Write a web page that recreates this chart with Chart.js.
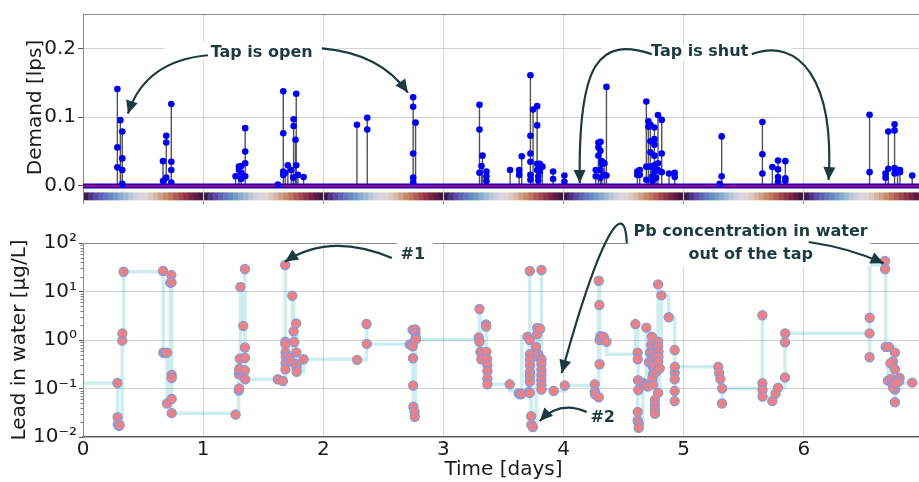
<!DOCTYPE html>
<html>
<head>
<meta charset="utf-8">
<script src="https://cdn.jsdelivr.net/npm/chart.js@4.4.1/dist/chart.umd.min.js"></script>
<style>
  html, body { margin: 0; padding: 0; background: #fff; width: 919px; height: 482px; overflow: hidden; }
  canvas { position: absolute; left: 0; }
  #demand { top: 0; }
  #lead { top: 215px; }
</style>
</head>
<body>
<canvas id="demand" width="930" height="215" style="width:930px;height:215px"></canvas>
<canvas id="lead" width="930" height="267" style="width:930px;height:267px"></canvas>
<script>
/* ── data ── */

const dayTicks = [0, 1, 2, 3, 4, 5, 6, 7];
const demandTicks = [0, 0.1, 0.2];
const leadTicks = [0.01, 0.1, 1, 10, 100];

// tap openings [days] and the flows logged during each one [lps]
const openTimes = [
  0.286, 0.311, 0.327, 0.666, 0.693, 0.735, 1.270, 1.298, 1.317, 1.350,
  1.622, 1.667, 1.683, 1.705, 1.733, 1.750, 1.753, 1.769, 1.775, 1.789, 1.836,
  2.280, 2.366, 2.748, 2.768, 3.300, 3.317, 3.325, 3.358, 3.555, 3.630, 3.652,
  3.724, 3.746, 3.780, 3.790, 3.802, 3.824, 3.913, 4.007,
  4.268, 4.290, 4.307, 4.318, 4.340, 4.357,
  4.614, 4.634, 4.689, 4.706, 4.723, 4.740, 4.756, 4.770, 4.786, 4.817, 4.878, 4.925,
  5.300, 5.316, 5.655, 5.738, 5.785, 5.846,
  6.547, 6.680, 6.703, 6.755, 6.780, 6.800, 6.902
];
const openFlows = [
  [0.141, 0.056, 0.027], [0.0956], [0.079, 0.040, 0.023, 0.003],
  [0.036, 0.007], [0.073, 0.063, 0.012], [0.119, 0.035, 0.023, 0.005],
  [0.014], [0.023, 0.028], [0.029, 0.019, 0.010], [0.084, 0.050, 0.033, 0.014],
  [0.002], [0.1375, 0.0765, 0.021, 0.016], [0.019], [0.030], [0.023], [0.012], [0.097, 0.087], [0.067], [0.134, 0.030], [0.016], [0.013],
  [0.089], [0.099, 0.082],
  [0.129, 0.115, 0.047, 0.012, 0.005], [0.092],
  [0.118, 0.082, 0.019], [0.029], [0.044], [0.021, 0.014, 0.007],
  [0.023], [0.023, 0.016], [0.043],
  [0.161, 0.073, 0.047, 0.035, 0.016, 0.009], [0.111], [0.116, 0.088, 0.032, 0.023], [0.014, 0.008], [0.032, 0.021], [0.028],
  [0.021, 0.010], [0.015, 0.006],
  [0.023, 0.014], [0.063, 0.056, 0.044], [0.064, 0.051, 0.023, 0.012], [0.036, 0.032], [0.033, 0.016], [0.144, 0.015],
  [0.021, 0.016], [0.023, 0.016], [0.1226, 0.028, 0.009], [0.094, 0.086], [0.089, 0.065, 0.049, 0.028], [0.014, 0.007],
  [0.085, 0.068, 0.060, 0.044, 0.030, 0.021], [0.012], [0.103, 0.033, 0.023], [0.096, 0.047, 0.020], [0.018], [0.019, 0.013],
  [0.003], [0.072, 0.014],
  [0.093, 0.046, 0.018], [0.0275], [0.037, 0.024, 0.013, 0.006], [0.036, 0.011, 0.007],
  [0.1035, 0.020], [0.018, 0.012], [0.079, 0.025], [0.0895, 0.0807, 0.026, 0.018], [0.023, 0.020], [0.023, 0.020], [0.015]
];

// lead at the tap while water is drawn: time [days], Pb [ug/L]
const pbT = [
  0.286, 0.288, 0.290, 0.300, 0.305, 0.327, 0.328, 0.338,
  0.666, 0.668, 0.684, 0.700, 0.700, 0.727, 0.735, 0.737, 0.738, 0.738, 0.738, 0.738,
  1.270, 1.296, 1.300, 1.298, 1.300, 1.302, 1.305, 1.310, 1.334, 1.348, 1.348, 1.348, 1.348, 1.350,
  1.622, 1.664, 1.683, 1.684, 1.685, 1.686, 1.688, 1.686, 1.685, 1.710, 1.719, 1.733, 1.742, 1.753, 1.758, 1.775, 1.776, 1.778, 1.777, 1.778, 1.836,
  2.282, 2.360, 2.362,
  2.720, 2.735, 2.743, 2.745, 2.747, 2.748, 2.750, 2.760, 2.762, 2.765, 2.768, 2.770, 2.770,
  3.294, 3.300, 3.300, 3.308, 3.312, 3.315, 3.355, 3.356, 3.358, 3.364, 3.366, 3.366, 3.366, 3.366,
  3.552, 3.627, 3.640, 3.649,
  3.700, 3.712, 3.719, 3.719, 3.720, 3.720, 3.720, 3.720, 3.719, 3.719, 3.719, 3.730, 3.732, 3.744,
  3.771, 3.780, 3.781, 3.788, 3.794, 3.805, 3.816, 3.816, 3.816, 3.816, 3.816, 3.816, 3.816, 3.816,
  3.918, 4.010,
  4.259, 4.260, 4.262, 4.293, 4.293, 4.298, 4.300, 4.300, 4.307, 4.315, 4.335, 4.357,
  4.598, 4.617, 4.617, 4.620, 4.622, 4.617, 4.617, 4.625, 4.625, 4.660, 4.675, 4.689, 4.700,
  4.710, 4.720, 4.730, 4.735, 4.740, 4.740, 4.745, 4.735, 4.745, 4.740, 4.745, 4.750, 4.755,
  4.760, 4.760, 4.760, 4.760, 4.765, 4.770, 4.780, 4.787, 4.787, 4.787, 4.790, 4.790, 4.787, 4.787,
  4.800, 4.814, 4.875, 4.925, 4.925, 4.925, 4.925, 4.925, 4.926,
  5.288, 5.294, 5.305, 5.319, 5.320,
  5.655, 5.655, 5.656, 5.656, 5.738, 5.765, 5.785, 5.843, 5.843, 5.845,
  6.547, 6.547, 6.548, 6.675, 6.676, 6.681, 6.708, 6.758, 6.742, 6.720, 6.758,
  6.700, 6.728, 6.755, 6.742, 6.758, 6.742, 6.797, 6.792, 6.758, 6.765, 6.902
];
const pbVal = [
  0.13, 0.0255, 0.018, 0.017, 0.0175, 0.97, 1.37, 25.6,
  26.5, 0.55, 0.54, 0.55, 0.049, 15.2, 21.9, 15.4, 0.19, 0.165, 0.061, 0.031,
  0.029, 0.091, 0.100, 0.196, 0.237, 0.255, 0.41, 12.4, 1.95, 29.1, 0.70, 0.43, 0.237, 0.155,
  0.155, 0.143, 35.2, 0.92, 0.81, 0.557, 0.45, 0.33, 0.25, 0.40, 0.43, 0.36, 8.2, 1.51, 0.91, 2.2, 0.557, 0.316, 0.27, 0.222, 0.40,
  0.39, 2.14, 0.83,
  0.81, 0.78, 1.62, 0.74, 0.42, 0.115, 0.042, 0.033, 0.026, 1.65, 1.40, 1.10, 1.03,
  1.13, 0.92, 4.36, 0.57, 0.57, 0.40, 2.1, 1.9, 0.57, 0.40, 0.30, 0.23, 0.16, 0.122,
  0.122, 0.079, 0.076, 0.078,
  1.17, 0.085, 26.5, 1.0, 0.51, 0.39, 0.30, 0.22, 0.175, 0.138, 0.081, 0.027, 0.018, 0.016,
  0.72, 1.78, 1.33, 0.51, 0.45, 1.70, 27.8, 0.40, 0.32, 0.24, 0.19, 0.15, 0.12, 0.095,
  0.089, 0.115,
  0.122, 0.086, 0.076, 0.066, 16.7, 5.27, 0.316, 1.0, 1.2, 1.15, 1.15, 0.92,
  2.13, 0.55, 0.40, 0.148, 0.093, 0.033, 0.022, 0.019, 0.0155, 0.13, 0.12, 1.8, 0.11,
  0.35, 0.55, 0.79, 1.17, 0.65, 0.52, 0.40, 0.31, 0.20, 0.16, 0.12, 0.26, 0.30,
  0.058, 0.046, 0.036, 0.030, 0.45, 0.22, 0.70, 14.0, 0.92, 0.72, 0.57, 0.45, 0.36, 0.081,
  0.26, 8.3, 2.94, 0.62, 0.21, 0.155, 0.089, 0.055, 0.28,
  0.28, 0.21, 0.157, 0.049, 0.100,
  3.23, 0.128, 0.093, 0.068, 0.055, 0.079, 0.104, 0.168, 0.90, 1.37,
  1.37, 0.44, 2.88, 42.5, 29.1, 0.72, 0.72, 0.55, 0.36, 0.33, 0.25,
  0.145, 0.16, 0.135, 0.12, 0.095, 0.105, 0.165, 0.14, 0.052, 0.13, 0.132
];

// stagnation values between draws (line only, no marker)
const stepKnotT = [0, 3.553, 3.653, 4.360, 6.549, 7];
const stepKnotVal = [0.13, 0.09, 1.2, 0.51, 35, 0.132];

/* ── style ── */

const FONT = '"DejaVu Sans", sans-serif';
const TXT = '#1a1a1a';
const GRID = '#d3d3d3';
const SPINE = '#8c8c8c';
const INK = '#1c3b40';

Chart.defaults.font.family = FONT;
Chart.defaults.color = TXT;

// twilight_shifted-ish cyclic map for hour of day
const TWILIGHT = ['#2f1436', '#5b3e9c', '#5f6ebd', '#6b91c4', '#93b2d0', '#c4cedb', '#e2d9e2',
                  '#d7c2b5', '#ca9677', '#b66954', '#983a4b', '#6c1c47', '#2f1436'];
function hexRgb(h) { return [1, 3, 5].map(i => parseInt(h.slice(i, i + 2), 16)); }
function twilightShifted(s) {
  const p = s * (TWILIGHT.length - 1);
  const i = Math.min(Math.floor(p), TWILIGHT.length - 2);
  const f = p - i;
  const a = hexRgb(TWILIGHT[i]), b = hexRgb(TWILIGHT[i + 1]);
  return 'rgb(' + a.map((c, k) => Math.round(c + (b[k] - c) * f)).join(',') + ')';
}

const SUP = { '-': '⁻', '0': '⁰', '1': '¹', '2': '²', '3': '³' };
function powerLabel(v) {
  return '10' + String(Math.round(Math.log10(v))).split('').map(c => SUP[c]).join('');
}

// keep both panels on the same x extent regardless of edge labels
function pinX(height) {
  return s => { s.height = height; s.paddingLeft = 0; s.paddingRight = 0; };
}

/* ── annotations (data coords) ── */

const demandNotes = [
  { lines: [['Tap is open', 1.487, 0.1937]],
    box: [[0.682, 0.2098], [2.121, 0.1846]],
    arrows: [[[1.040, 0.190], [0.516, 0.182], [0.374, 0.105]],
             [[1.988, 0.200], [2.471, 0.193], [2.704, 0.1357]]] },
  { lines: [['Tap is shut', 5.133, 0.1944]],
    box: [[4.318, 0.2056], [5.898, 0.1818]],
    arrows: [[[4.734, 0.1916], [4.301, 0.2168], [4.118, 0.1818], [4.135, 0.0042]],
             [[5.566, 0.1916], [5.965, 0.2168], [6.256, 0.1538], [6.206, 0.0084]]] }
];
const leadNotes = [
  { lines: [['#1', 2.745, 56.6]],
    box: [[2.612, 139], [2.912, 30.5]],
    arrows: [[[2.571, 49.1], [2.055, 168.8], [1.681, 41.1]]] },
  { lines: [['Pb concentration in water', 5.557, 168.8], ['out of the tap', 5.557, 56.6]],
    box: [[4.542, 298], [6.556, 33.6]],
    arrows: [[[4.526, 100], [4.509, 977], [4.301, 146], [3.985, 0.209]],
             [[6.040, 104.9], [6.381, 78.9], [6.664, 38.1]]] },
  { lines: [['#2', 4.326, 0.0247]],
    box: [[4.218, 0.0396], [4.434, 0.01535]],
    arrows: [[[4.193, 0.0327], [3.968, 0.058], [3.802, 0.0214]]] }
];

function drawArrow(ctx, pts) {
  ctx.beginPath();
  ctx.moveTo(pts[0][0], pts[0][1]);
  if (pts.length === 3) ctx.quadraticCurveTo(pts[1][0], pts[1][1], pts[2][0], pts[2][1]);
  else ctx.bezierCurveTo(pts[1][0], pts[1][1], pts[2][0], pts[2][1], pts[3][0], pts[3][1]);
  ctx.stroke();
  const [ex, ey] = pts[pts.length - 1], [cx, cy] = pts[pts.length - 2];
  const a = Math.atan2(ey - cy, ex - cx), L = 13, W = 6;
  const bx = ex - L * Math.cos(a), by = ey - L * Math.sin(a);
  ctx.beginPath();
  ctx.moveTo(ex, ey);
  ctx.lineTo(bx + W * Math.sin(a), by - W * Math.cos(a));
  ctx.lineTo(bx - W * Math.sin(a), by + W * Math.cos(a));
  ctx.closePath();
  ctx.fill();
}

function drawNotes(chart, notes) {
  const { ctx, scales: { x, y } } = chart;
  const P = ([t, v]) => [x.getPixelForValue(t), y.getPixelForValue(v)];
  ctx.save();
  ctx.fillStyle = '#fff';
  notes.forEach(n => {
    const [x0, y0] = P(n.box[0]), [x1, y1] = P(n.box[1]);
    ctx.fillRect(Math.min(x0, x1), Math.min(y0, y1), Math.abs(x1 - x0), Math.abs(y1 - y0));
  });
  ctx.strokeStyle = INK;
  ctx.fillStyle = INK;
  ctx.lineWidth = 2.2;
  notes.forEach(n => n.arrows.forEach(a => drawArrow(ctx, a.map(P))));
  ctx.font = 'bold 16px ' + FONT;
  ctx.textAlign = 'center';
  ctx.textBaseline = 'middle';
  notes.forEach(n => n.lines.forEach(([s, t, v]) => {
    const [px, py] = P([t, v]);
    ctx.fillText(s, px, py);
  }));
  ctx.restore();
}

function topSpine(chart) {
  const { ctx, chartArea: a } = chart;
  ctx.save();
  ctx.strokeStyle = SPINE;
  ctx.lineWidth = 1;
  ctx.beginPath();
  ctx.moveTo(a.left, a.top + 0.5);
  ctx.lineTo(a.right, a.top + 0.5);
  ctx.stroke();
  ctx.restore();
}

/* ── demand panel ── */

const demandPoints = openTimes.flatMap((t, i) => openFlows[i].map(q => ({ x: t, y: q })));

const demandDecor = {
  id: 'demandDecor',
  beforeDraw(chart) {
    // hour-of-day strip under the baseline
    const { ctx, chartArea: a, scales: { x, y } } = chart;
    const y0 = y.getPixelForValue(-0.0095), y1 = y.getPixelForValue(-0.021);
    ctx.save();
    for (let h = 0; h < 7 * 24; h++) {
      const x0 = x.getPixelForValue(h / 24);
      if (x0 >= a.right) break;
      const x1 = Math.min(x.getPixelForValue((h + 1) / 24), a.right);
      ctx.fillStyle = twilightShifted(((h % 24) + 0.5) / 24);
      ctx.fillRect(x0, y0, x1 - x0 + 0.5, y1 - y0);
    }
    ctx.restore();
  },
  beforeDatasetsDraw(chart) {
    const { ctx, chartArea: a, scales: { x, y } } = chart;
    const base = y.getPixelForValue(0);
    ctx.save();
    ctx.beginPath();
    ctx.rect(a.left, a.top, a.right - a.left, a.bottom - a.top);
    ctx.clip();
    ctx.strokeStyle = 'rgba(25,25,25,0.75)';
    ctx.lineWidth = 1.4;
    ctx.beginPath();
    demandPoints.forEach(p => {
      const px = x.getPixelForValue(p.x);
      ctx.moveTo(px, base);
      ctx.lineTo(px, y.getPixelForValue(p.y));
    });
    ctx.stroke();
    [['#0000ff', 5], ['#ff0000', 1.5]].forEach(([c, w]) => {
      ctx.strokeStyle = c;
      ctx.lineWidth = w;
      ctx.beginPath();
      ctx.moveTo(a.left, base);
      ctx.lineTo(a.right, base);
      ctx.stroke();
    });
    ctx.restore();
  },
  afterDraw(chart) {
    topSpine(chart);
    drawNotes(chart, demandNotes);
  }
};

new Chart(document.getElementById('demand'), {
  type: 'scatter',
  data: {
    datasets: [{
      data: demandPoints,
      pointRadius: 3.3, pointHoverRadius: 3.3,
      pointBackgroundColor: '#0000ff', pointBorderWidth: 0
    }]
  },
  options: {
    responsive: false, animation: false, events: [], devicePixelRatio: 1,
    layout: { padding: { top: 12, right: 6, left: 0, bottom: 0 } },
    plugins: { legend: { display: false }, tooltip: { enabled: false } },
    scales: {
      x: {
        type: 'linear', min: 0, max: 7, bounds: 'data',
        afterBuildTicks: s => { s.ticks = dayTicks.map(value => ({ value })); },
        afterFit: pinX(9),
        ticks: { display: false },
        grid: { color: GRID, tickLength: 3, tickColor: SPINE },
        border: { display: false }
      },
      y: {
        min: -0.022, max: 0.25, bounds: 'data',
        afterBuildTicks: s => { s.ticks = demandTicks.map(value => ({ value })); },
        afterFit: s => { s.width = 83; },
        ticks: { font: { size: 20 }, padding: 2, color: TXT, callback: v => v.toFixed(1) },
        grid: { color: GRID, tickLength: 5, tickColor: '#555' },
        border: { color: SPINE, width: 1 },
        title: { display: true, text: 'Demand [lps]', color: TXT, font: { size: 20 }, padding: { top: 24, bottom: 0 } }
      }
    }
  },
  plugins: [demandDecor]
});

/* ── lead panel ── */

const pbPoints = pbT.map((t, i) => ({ x: t, y: pbVal[i] }));
const stepPoints = pbPoints.slice();
stepKnotT.forEach((t, i) => {
  let k = stepPoints.findIndex(p => p.x > t);
  if (k < 0) k = stepPoints.length;
  stepPoints.splice(k, 0, { x: t, y: stepKnotVal[i] });
});

const leadDecor = {
  id: 'leadDecor',
  afterDraw(chart) {
    const { ctx, chartArea: a, scales: { y } } = chart;
    topSpine(chart);
    // minor log ticks on the left spine
    ctx.save();
    ctx.strokeStyle = '#555';
    ctx.lineWidth = 0.8;
    ctx.beginPath();
    for (let k = -2; k < 2; k++) {
      for (let m = 2; m < 10; m++) {
        const py = Math.round(y.getPixelForValue(m * Math.pow(10, k))) + 0.5;
        ctx.moveTo(a.left - 2.5, py);
        ctx.lineTo(a.left, py);
      }
    }
    ctx.stroke();
    ctx.restore();
    drawNotes(chart, leadNotes);
  }
};

new Chart(document.getElementById('lead'), {
  type: 'scatter',
  data: {
    datasets: [
      {
        data: pbPoints,
        pointRadius: 4.6, pointHoverRadius: 4.6,
        pointBackgroundColor: '#f08080', pointBorderColor: '#7c9ce6', pointBorderWidth: 1.2
      },
      {
        data: stepPoints, showLine: true, stepped: true,
        borderColor: 'rgba(0,170,170,0.2)', borderWidth: 3.5, pointRadius: 0
      }
    ]
  },
  options: {
    responsive: false, animation: false, events: [], devicePixelRatio: 1,
    layout: { padding: { top: 28, right: 6, left: 0, bottom: 0 } },
    plugins: { legend: { display: false }, tooltip: { enabled: false } },
    scales: {
      x: {
        type: 'linear', min: 0, max: 7, bounds: 'data',
        afterBuildTicks: s => { s.ticks = dayTicks.map(value => ({ value })); },
        afterFit: pinX(45),
        ticks: { font: { size: 20, lineHeight: 1 }, padding: 3, color: TXT, maxRotation: 0, autoSkip: false },
        grid: { color: GRID, drawTicks: false },
        border: { color: '#555', width: 1.3 },
        title: { display: true, text: 'Time [days]', color: TXT, font: { size: 20 }, padding: { top: 0, bottom: 0 } }
      },
      y: {
        type: 'logarithmic', min: 0.01, max: 100, bounds: 'data',
        afterBuildTicks: s => { s.ticks = leadTicks.map(value => ({ value, major: true })); },
        afterFit: s => { s.width = 83; },
        ticks: { font: { size: 20 }, padding: 2, color: TXT, callback: powerLabel },
        grid: { color: GRID, tickLength: 4, tickColor: '#555' },
        border: { color: SPINE, width: 1 },
        title: { display: true, text: 'Lead in water [μg/L]', color: TXT, font: { size: 20 }, padding: { top: 8, bottom: 0 } }
      }
    }
  },
  plugins: [leadDecor]
});
</script>
</body>
</html>
